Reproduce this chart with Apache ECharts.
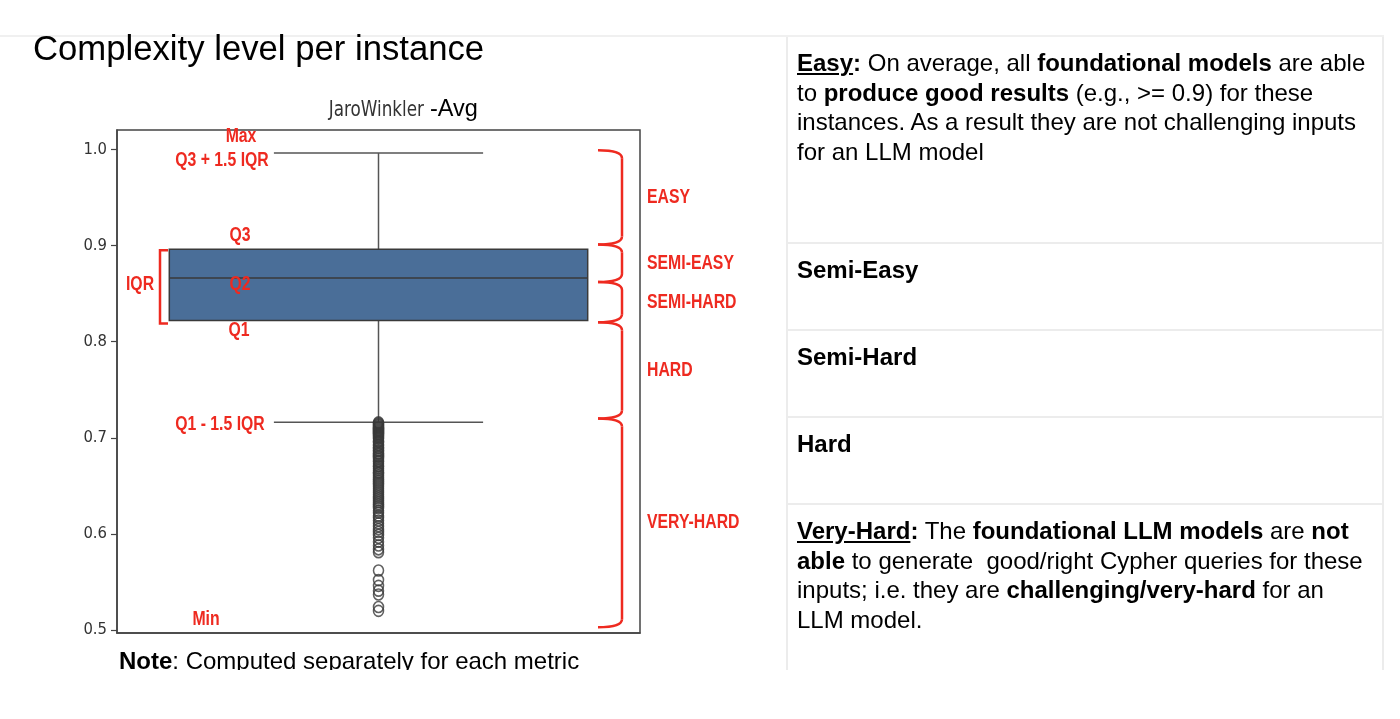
<!DOCTYPE html>
<html>
<head>
<meta charset="utf-8">
<script src="https://cdn.jsdelivr.net/npm/echarts@6/dist/echarts.min.js"></script>
<style>
  body { margin: 0; background: #fff; }
  #wrap { position: relative; width: 1400px; height: 719px; overflow: hidden; font-family: 'Liberation Sans', Arial, sans-serif; color: #000; }
  #chart { position: absolute; left: 0; top: 0; width: 1400px; height: 719px; }
  #title { position: absolute; left: 33px; top: 31px; font-size: 34.7px; line-height: 34.7px; white-space: nowrap; }
  #note { position: absolute; left: 119px; top: 651px; height: 19px; overflow: hidden; font-size: 24px; line-height: 20px; white-space: nowrap; }
  #topline { position: absolute; left: 0; top: 35px; width: 1384px; height: 2px; background: #f0f0f0; }
  #table { position: absolute; left: 786px; top: 37px; width: 594px; height: 633px; overflow: hidden;
           border-left: 2px solid #ececec; border-right: 2px solid #ececec; }
  .row { box-sizing: border-box; border-bottom: 2px solid #ececec; padding: 11px 10px 0 9px;
         font-size: 24px; line-height: 29.5px; white-space: nowrap; }
</style>
</head>
<body>
<div id="wrap">
  <div id="chart"></div>
  <div id="topline"></div>
  <div id="title">Complexity level per instance</div>
  <div id="note"><b>Note</b>: Computed separately for each metric</div>
  <div id="table">
    <div class="row" style="height:207px"><b><u>Easy</u>:</b> On average, all <b>foundational models</b> are able<br>to <b>produce good results</b> (e.g., &gt;= 0.9) for these<br>instances. As a result they are not challenging inputs<br>for an LLM model</div>
    <div class="row" style="height:87px"><b>Semi-Easy</b></div>
    <div class="row" style="height:87px"><b>Semi-Hard</b></div>
    <div class="row" style="height:87px"><b>Hard</b></div>
    <div class="row" style="height:170px;border-bottom:none"><b><u>Very-Hard</u>:</b> The <b>foundational LLM models</b> are <b>not<br>able</b> to generate&nbsp; good/right Cypher queries for these<br>inputs; i.e. they are <b>challenging/very-hard</b> for an<br>LLM model.</div>
  </div>
</div>
<script>
// JaroWinkler-Avg per instance
const categories = ['']
const yTicks = [0.5, 0.6, 0.7, 0.8, 0.9, 1.0]
// [lower whisker, Q1, median, Q3, upper whisker]
const boxStats = [0.716, 0.822, 0.866, 0.896, 0.996]
const outliers = [
  0.716, 0.715, 0.714, 0.713, 0.712, 0.711, 0.710, 0.709, 0.708, 0.707,
  0.706, 0.705, 0.704, 0.703, 0.702, 0.701, 0.700, 0.699, 0.697, 0.696,
  0.695, 0.693, 0.692, 0.690, 0.689, 0.687, 0.686, 0.684, 0.683, 0.681,
  0.680, 0.678, 0.676, 0.675, 0.673, 0.671, 0.670, 0.668, 0.666, 0.664,
  0.663, 0.661, 0.659, 0.657, 0.655, 0.653, 0.651, 0.649, 0.647, 0.645,
  0.643, 0.641, 0.639, 0.637, 0.635, 0.633, 0.631, 0.629, 0.627, 0.624,
  0.622, 0.619, 0.617, 0.614, 0.611, 0.608, 0.605, 0.602, 0.599, 0.596,
  0.592, 0.588, 0.584, 0.581, 0.562, 0.552, 0.546, 0.541, 0.537, 0.524,
  0.520,
]
// complexity bands (top to bottom edges) and their names
const bandEdges = [0.999, 0.901, 0.862, 0.820, 0.720, 0.503]
const bandNames = ['EASY', 'SEMI-EASY', 'SEMI-HARD', 'HARD', 'VERY-HARD']

const RED = '#ee2a20'
const GRID = { left: 117, top: 130, right: 760, bottom: 86 }

const chart = echarts.init(document.getElementById('chart'))

chart.setOption({
  animation: false,
  grid: { ...GRID, show: true, borderColor: '#444', borderWidth: 1.5 },
  xAxis: {
    type: 'category',
    data: categories,
    axisLine: { lineStyle: { color: '#444', width: 1.5 } },
    axisTick: { alignWithLabel: true, length: 6, lineStyle: { color: '#444', width: 1.2 } },
    axisLabel: { show: false },
  },
  yAxis: {
    type: 'value',
    min: 0.497,
    max: 1.02,
    axisLine: { show: true, lineStyle: { color: '#444', width: 1.5 } },
    axisTick: { show: true, length: 6, customValues: yTicks, lineStyle: { color: '#444', width: 1.2 } },
    axisLabel: {
      customValues: yTicks,
      formatter: (v) => v.toFixed(1),
      fontFamily: '"DejaVu Sans Condensed", "DejaVu Sans", sans-serif',
      fontSize: 16.5,
      color: '#333',
      margin: 10,
    },
    splitLine: { show: false },
  },
  series: [
    {
      // box + whiskers, caps half as wide as the box
      type: 'custom',
      data: [[0, ...boxStats]],
      renderItem(params, api) {
        const x = api.value(0)
        const [lo, q1, med, q3, hi] = [1, 2, 3, 4, 5].map((i) => api.value(i))
        const band = api.size([1, 0])[0]
        const cx = api.coord([x, med])[0]
        const y = (v) => api.coord([x, v])[1]
        const bw = band * 0.8
        const cw = band * 0.4
        const line = (x1, y1, x2, y2, c) => ({
          type: 'line',
          shape: { x1, y1, x2, y2 },
          style: { stroke: c || '#555', lineWidth: 1.5 },
        })
        return {
          type: 'group',
          children: [
            line(cx, y(hi), cx, y(q3)),
            line(cx, y(q1), cx, y(lo)),
            line(cx - cw / 2, y(hi), cx + cw / 2, y(hi)),
            line(cx - cw / 2, y(lo), cx + cw / 2, y(lo)),
            {
              type: 'rect',
              shape: { x: cx - bw / 2, y: y(q3), width: bw, height: y(q1) - y(q3) },
              style: { fill: '#4a6e98', stroke: '#3a3a3a', lineWidth: 1.5 },
            },
            line(cx - bw / 2, y(med), cx + bw / 2, y(med), '#3a3a3a'),
          ],
        }
      },
      z: 2,
    },
    {
      type: 'scatter',
      data: outliers.map((v) => [0, v]),
      symbol: 'circle',
      symbolSize: [10, 11],
      itemStyle: { color: 'rgba(0,0,0,0)', borderColor: '#3a3a3a', borderWidth: 1.6 },
      z: 3,
    },
  ],
})

// annotations placed from the axis scale
const py = (v) => chart.convertToPixel({ yAxisIndex: 0 }, v)
const [lo, q1, med, q3, hi] = boxStats
const gl = GRID.left
const gr = 1400 - GRID.right

function redText(text, x, y, align) {
  return {
    type: 'text',
    x,
    y,
    scaleX: 0.79,
    style: {
      text,
      fill: RED,
      font: 'bold 20px "Liberation Sans", Arial, sans-serif',
      align: align || 'center',
      verticalAlign: 'middle',
    },
    z: 10,
  }
}

const graphics = [
  {
    type: 'text',
    x: 424,
    y: 111,
    scaleX: 0.8,
    style: { text: 'JaroWinkler', fill: '#333', font: '21px "DejaVu Sans", sans-serif', align: 'right', verticalAlign: 'middle' },
  },
  {
    type: 'text',
    x: 430,
    y: 110,
    style: { text: '-Avg', fill: '#000', font: '23.5px "Liberation Sans", Arial, sans-serif', align: 'left', verticalAlign: 'middle' },
  },
  redText('Max', gl + 124, py(hi) - 17),
  redText('Q3 + 1.5 IQR', gl + 105, py(hi) + 7),
  redText('Q3', gl + 123, py(q3) - 14),
  redText('IQR', gl + 23, py(med) + 6),
  redText('Q2', gl + 123, py(med) + 6),
  redText('Q1', gl + 122, py(q1) + 10),
  redText('Q1 - 1.5 IQR', gl + 103, py(lo) + 2),
  redText('Min', gl + 89, py(Math.min(...outliers)) + 9),
  {
    // IQR bracket
    type: 'polyline',
    shape: { points: [[gl + 51, py(q3) + 1], [gl + 43, py(q3) + 1], [gl + 43, py(q1) + 3], [gl + 51, py(q1) + 3]] },
    style: { stroke: RED, lineWidth: 2.5, fill: null },
    z: 10,
  },
]

// braces for the complexity bands
const bx = gr - 18
const hx = gr - 42
bandNames.forEach((name, i) => {
  const top = py(bandEdges[i])
  const bot = py(bandEdges[i + 1])
  const st = { stroke: RED, lineWidth: 2.5, fill: null }
  graphics.push(
    { type: 'bezierCurve', shape: { x1: hx, y1: top, cpx1: bx, cpy1: top, x2: bx, y2: top + 8 }, style: st, z: 10 },
    { type: 'line', shape: { x1: bx, y1: top + 8, x2: bx, y2: bot - 8 }, style: st, z: 10 },
    { type: 'bezierCurve', shape: { x1: bx, y1: bot - 8, cpx1: bx, cpy1: bot, x2: hx, y2: bot }, style: st, z: 10 },
    redText(name, gr + 7, (top + bot) / 2, 'left')
  )
})

chart.setOption({ graphic: graphics })
</script>
</body>
</html>
